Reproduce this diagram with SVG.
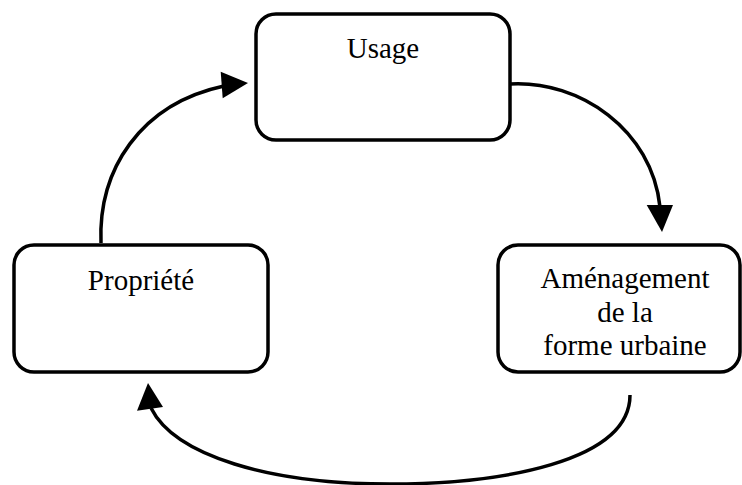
<svg xmlns="http://www.w3.org/2000/svg" width="742" height="485" viewBox="0 0 742 485">
<style>
.box{fill:#fff;stroke:#000;stroke-width:3.5}
.lbl{font-size:29px;fill:#000;text-anchor:middle}
.conn path{fill:none;stroke:#000;stroke-width:3.5}
.conn polygon{fill:#000;stroke:none}
</style>
<rect width="742" height="485" fill="#fff"/>
<g id="usage">
<rect class="box" x="256" y="14" width="254" height="126" rx="20"/>
<text class="lbl" font-family="Liberation Serif, Times New Roman, serif" x="383" y="58">Usage</text>
</g>
<g id="propriete">
<rect class="box" x="14" y="245" width="254" height="127" rx="20"/>
<text class="lbl" font-family="Liberation Serif, Times New Roman, serif" x="141" y="290">Propriété</text>
</g>
<g id="amenagement">
<rect class="box" x="498" y="245" width="242" height="127" rx="20"/>
<text class="lbl" font-family="Liberation Serif, Times New Roman, serif" x="625" y="288">Aménagement</text>
<text class="lbl" font-family="Liberation Serif, Times New Roman, serif" x="625" y="322">de la</text>
<text class="lbl" font-family="Liberation Serif, Times New Roman, serif" x="625" y="355">forme urbaine</text>
</g>
<g id="connectors" class="conn">
<path d="M101,243 C98,170 140,104 224,86"/>
<polygon points="248,83 220.7,71.7 222.7,98.3"/>
<path d="M510,84 C580,80 652,130 660,207"/>
<polygon points="662,232 646.7,205 673,205"/>
<path d="M630,395 C630,462 500,484 390,484 C270,484 175,456 151,408"/>
<polygon points="148,383 137,410.7 163,407"/>
</g>
</svg>
